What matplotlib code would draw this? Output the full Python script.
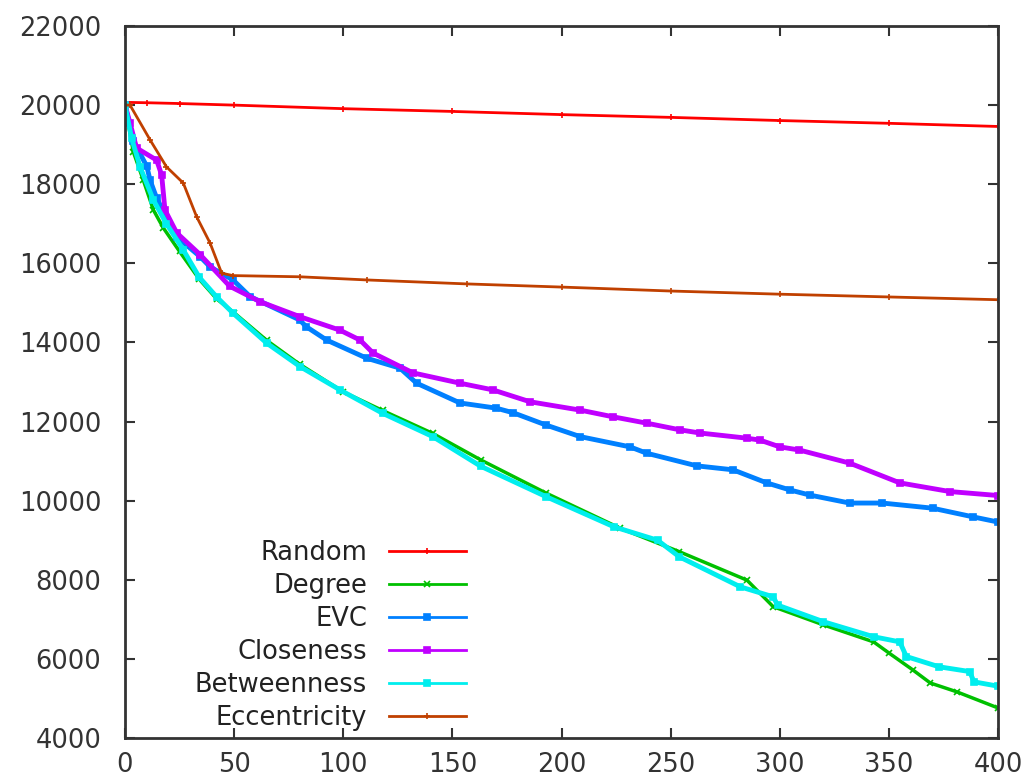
import numpy as np
import matplotlib.pyplot as plt

# values (x = number of removed nodes)
rand_x = [0, 10, 25, 50, 100, 150, 200, 250, 300, 350, 400]
rand_y = [20070, 20060, 20040, 20000, 19910, 19840, 19760, 19690, 19610, 19540, 19460]

deg_x = [0, 3.8, 8.4, 13, 17.5, 25, 34, 42, 50, 65, 80, 100, 118, 141, 163, 193, 227,
         254, 285, 297, 320, 343, 350, 361, 369, 381, 400]
deg_y = [20000, 18820, 18100, 17350, 16900, 16300, 15600, 15100, 14750, 14050, 13450,
         12750, 12280, 11700, 11030, 10190, 9300, 8710, 7990, 7320, 6860, 6430, 6150,
         5720, 5390, 5170, 4760]

evc_x = [0, 3.8, 10, 11.5, 14.5, 16.8, 23.7, 34.4, 39, 49.5, 57.3, 80, 83, 92.4, 110.8,
         126, 133.6, 153.5, 170, 178, 193, 208.5, 231.4, 239, 262, 278.6, 294, 304.7,
         313.9, 332, 347, 370, 388.6, 400]
evc_y = [20000, 19100, 18450, 18100, 17650, 17400, 16670, 16170, 15910, 15580, 15160,
         14570, 14400, 14060, 13600, 13350, 12970, 12470, 12340, 12220, 11910, 11620,
         11360, 11200, 10880, 10780, 10450, 10270, 10140, 9940, 9940, 9810, 9590, 9460]

clo_x = [0, 2.3, 5.3, 14.5, 16.8, 18.3, 23.7, 34.4, 48, 61.9, 80.2, 98.5, 107.7, 113.7,
         132, 153.5, 168.6, 185.6, 208.5, 223.6, 239, 254.3, 263.5, 284.9, 291, 300,
         309, 332, 355, 378, 400]
clo_y = [20000, 19550, 18915, 18610, 18230, 17350, 16770, 16220, 15420, 15030, 14650,
         14310, 14060, 13730, 13230, 12970, 12800, 12500, 12290, 12120, 11960, 11790,
         11710, 11580, 11530, 11360, 11280, 10950, 10450, 10230, 10130]

btw_x = [0, 3, 6.9, 13, 19, 26.7, 34, 42, 49.5, 65, 80.2, 98.5, 118, 141, 163, 193,
         224, 244, 254, 282, 297, 299, 320, 343, 355, 358, 373, 387, 389, 400]
btw_y = [20000, 19170, 18440, 17600, 17000, 16340, 15650, 15150, 14740, 13980, 13390,
         12800, 12210, 11620, 10870, 10100, 9340, 9000, 8580, 7820, 7570, 7360, 6940,
         6560, 6430, 6060, 5800, 5680, 5420, 5310]

ecc_x = [0, 2.3, 11.5, 19, 26.7, 32.8, 39, 44.3, 49.5, 80, 110.8, 156.5, 200, 250, 300,
         350, 400]
ecc_y = [20000, 20000, 19120, 18440, 18030, 17180, 16510, 15750, 15690, 15660, 15580,
         15480, 15400, 15300, 15220, 15150, 15080]

series = [
    ("Random", rand_x, rand_y, "#ff0000", "+", 2.0),
    ("Degree", deg_x, deg_y, "#00c000", "x", 2.5),
    ("EVC", evc_x, evc_y, "#0080ff", "s", 3.5),
    ("Closeness", clo_x, clo_y, "#c000ff", "s", 3.5),
    ("Betweenness", btw_x, btw_y, "#00eeee", "s", 3.5),
    ("Eccentricity", ecc_x, ecc_y, "#c04000", "+", 2.0),
]

plt.rcParams['font.family'] = ['DejaVu Sans']
fig = plt.figure(figsize=(10.24, 7.82), dpi=100)
ax = fig.add_axes([125 / 1024, 1 - 738 / 782, 873 / 1024, 712 / 782])

for name, xs, ys, col, mk, lw in series:
    ax.plot(xs, ys, color=col, lw=lw, marker=mk, markersize=4, mew=1.2, label=name)

ax.set_xlim(0, 400)
ax.set_ylim(4000, 22000)
ax.set_xticks(np.arange(0, 401, 50))
ax.set_yticks(np.arange(4000, 22001, 2000))
ax.tick_params(direction='in', length=7, width=1.5, top=True, right=True,
               labelsize=18.5, colors='#333333')
ax.tick_params(axis='x', pad=10)
ax.tick_params(axis='y', pad=17)
for sp in ax.spines.values():
    sp.set_linewidth(2)
    sp.set_color('#333333')

leg = ax.legend(loc='upper right', bbox_to_anchor=(466 / 1024, 1 - 540 / 782),
                bbox_transform=fig.transFigure, frameon=False, markerfirst=False,
                fontsize=18.5, handlelength=3.0, handletextpad=0.85, labelspacing=0.27,
                borderpad=0, borderaxespad=0)
for line in leg.get_lines():
    line.set_linewidth(2)
for t in leg.get_texts():
    t.set_color('#222222')

fig.savefig("out.png", dpi=100)
